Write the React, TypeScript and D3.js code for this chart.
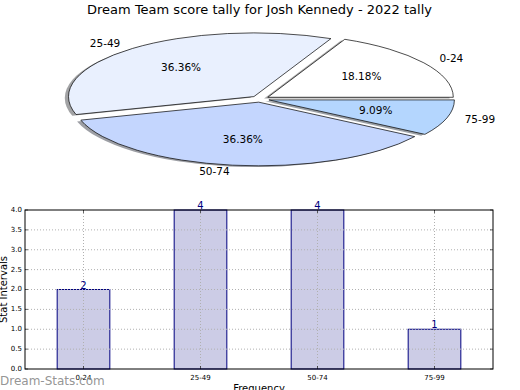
import React from "react";
import * as d3 from "d3";

const title = "Dream Team score tally for Josh Kennedy - 2022 tally";
const categories = ["0-24", "25-49", "50-74", "75-99"];
const counts = [2, 4, 4, 1];
const sliceColors = ["#ffffff", "#e9f0fe", "#c4d6fe", "#b4d6fe"];
const yTicks = [0, 0.5, 1, 1.5, 2, 2.5, 3, 3.5, 4];

const W = 520;
const H = 390;
const FONT = "DejaVu Sans, sans-serif";

// pie geometry
const cx = 260;
const cy = 99;
const rx = 185.5;
const ry = 63.7;
const explode = 0.05;

// bar plot geometry
const plot = { left: 25, right: 493, top: 210, bottom: 369 };

function darken(c: string) {
  const col = d3.rgb(c);
  return d3.rgb(col.r * 0.3, col.g * 0.3, col.b * 0.3).toString();
}

export default function App() {
  const total = d3.sum(counts);
  const pie = d3
    .pie<number>()
    .sort(null)
    .startAngle(Math.PI / 2)
    .endAngle(Math.PI / 2 - 2 * Math.PI)(counts);
  const arc = d3.arc<d3.PieArcDatum<number>>().innerRadius(0).outerRadius(1);

  const slices = pie.map((p, i) => {
    const mid = (p.startAngle + p.endAngle) / 2;
    const ux = Math.sin(mid);
    const uy = -Math.cos(mid);
    const ox = cx + explode * rx * ux;
    const oy = cy + explode * ry * uy;
    return {
      i,
      path: arc(p) as string,
      ox,
      oy,
      ux,
      uy,
      pct: ((p.value / total) * 100).toFixed(2) + "%",
    };
  });

  const x = d3
    .scaleBand<string>()
    .domain(categories)
    .range([plot.left, plot.right])
    .paddingInner(0.55)
    .paddingOuter(0.275);
  const y = d3.scaleLinear().domain([0, 4]).range([plot.bottom, plot.top]);
  const xc = (c: string) => (x(c) as number) + x.bandwidth() / 2;

  return (
    <svg
      width={W}
      height={H}
      style={{ position: "absolute", left: 0, top: 0, background: "#fff" }}
      fontFamily={FONT}
    >
      <rect x={0} y={0} width={W} height={H} fill="#fff" />
      <text x={259.5} y={10} fontSize={13} textAnchor="middle" dominantBaseline="middle" fill="#000">
        {title}
      </text>

      {/* shadows */}
      {slices.map((s) => (
        <path
          key={"sh" + s.i}
          d={s.path}
          transform={`translate(${s.ox - 0.02 * rx},${s.oy + 0.02 * ry}) scale(${rx},${ry})`}
          fill={darken(sliceColors[s.i])}
          fillOpacity={0.5}
          stroke="none"
        />
      ))}
      {/* wedges */}
      {slices.map((s) => (
        <path
          key={"w" + s.i}
          d={s.path}
          transform={`translate(${s.ox},${s.oy}) scale(${rx},${ry})`}
          fill={sliceColors[s.i]}
          stroke="#000"
          strokeWidth={0.7}
          vectorEffect="non-scaling-stroke"
        />
      ))}
      {slices.map((s) => (
        <g key={"l" + s.i} fontSize={10.5} fill="#000">
          <text
            x={s.ox + 1.1 * rx * s.ux}
            y={s.oy + 1.1 * ry * s.uy}
            textAnchor={s.ux > 0 ? "start" : "end"}
            dominantBaseline="middle"
          >
            {categories[s.i]}
          </text>
          <text
            x={s.ox + 0.6 * rx * s.ux}
            y={s.oy + 0.6 * ry * s.uy}
            textAnchor="middle"
            dominantBaseline="middle"
          >
            {s.pct}
          </text>
        </g>
      ))}

      {/* bars */}
      {categories.map((c, i) => (
        <rect
          key={"b" + c}
          x={x(c)}
          y={y(counts[i])}
          width={x.bandwidth()}
          height={plot.bottom - y(counts[i])}
          fill="#ccccE6"
          stroke="#000080"
          strokeWidth={1}
        />
      ))}

      {/* grid */}
      {yTicks.slice(1, -1).map((t) => (
        <line
          key={"gy" + t}
          x1={plot.left}
          x2={plot.right}
          y1={y(t)}
          y2={y(t)}
          stroke="#b0b0b0"
          strokeWidth={1}
          strokeDasharray="1,2"
        />
      ))}
      {categories.map((c) => (
        <line
          key={"gx" + c}
          x1={xc(c)}
          x2={xc(c)}
          y1={plot.top}
          y2={plot.bottom}
          stroke="#b0b0b0"
          strokeWidth={1}
          strokeDasharray="1,2"
        />
      ))}

      {/* frame */}
      <rect
        x={plot.left}
        y={plot.top}
        width={plot.right - plot.left}
        height={plot.bottom - plot.top}
        fill="none"
        stroke="#000"
        strokeWidth={1}
      />

      {/* y ticks */}
      {yTicks.map((t) => (
        <g key={"yt" + t}>
          <line x1={plot.left} x2={plot.left + 3} y1={y(t)} y2={y(t)} stroke="#000" strokeWidth={0.6} />
          <line x1={plot.right} x2={plot.right - 3} y1={y(t)} y2={y(t)} stroke="#000" strokeWidth={0.6} />
          <text x={plot.left - 3} y={y(t)} fontSize={7} textAnchor="end" dominantBaseline="middle" fill="#000">
            {t.toFixed(1)}
          </text>
        </g>
      ))}
      {/* x ticks */}
      {categories.map((c) => (
        <g key={"xt" + c}>
          <line x1={xc(c)} x2={xc(c)} y1={plot.bottom} y2={plot.bottom - 3} stroke="#000" strokeWidth={0.6} />
          <line x1={xc(c)} x2={xc(c)} y1={plot.top} y2={plot.top + 3} stroke="#000" strokeWidth={0.6} />
          <text x={xc(c)} y={plot.bottom + 9} fontSize={7} textAnchor="middle" dominantBaseline="middle" fill="#000">
            {c}
          </text>
        </g>
      ))}

      {/* value labels */}
      {categories.map((c, i) => (
        <text
          key={"v" + c}
          x={xc(c)}
          y={y(counts[i]) - 1}
          fontSize={10}
          textAnchor="middle"
          fill="#000080"
        >
          {counts[i]}
        </text>
      ))}

      <text
        transform={`translate(4,${(plot.top + plot.bottom) / 2}) rotate(-90)`}
        fontSize={10}
        textAnchor="middle"
        dominantBaseline="middle"
        fill="#000"
      >
        Stat Intervals
      </text>
      <text x={259} y={392} fontSize={10} textAnchor="middle" fill="#000">
        Frequency
      </text>

      <text x={0} y={385} fontSize={12} fill="#888" fillOpacity={0.9}>
        Dream-Stats.com
      </text>
    </svg>
  );
}
